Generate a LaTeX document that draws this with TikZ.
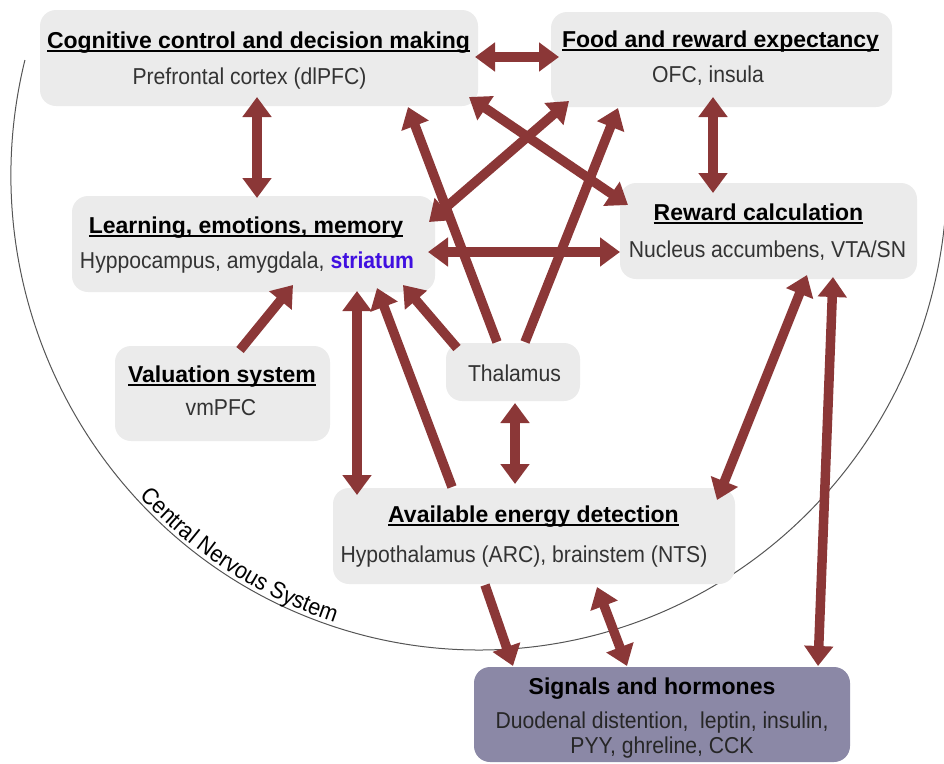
\documentclass[tikz,border=0pt]{standalone}
\usepackage{fontspec}
\setmainfont{Liberation Sans}
\newfontfamily\narrowf{Liberation Sans}[FakeStretch=0.92]
\usetikzlibrary{arrows.meta,calc,decorations.text}
\definecolor{boxgray}{RGB}{235,235,235}
\definecolor{sigcol}{RGB}{139,136,166}
\definecolor{arrcol}{RGB}{139,55,55}
\definecolor{strcol}{RGB}{64,16,224}
\definecolor{subcol}{RGB}{51,51,51}
\definecolor{arccol}{RGB}{85,85,85}
\newcommand\myul[1]{\setbox0\hbox{#1}\rlap{\rule[-4.3pt]{\wd0}{2.2pt}}\box0}
\tikzset{
  box/.style={fill=boxgray, rounded corners=16pt, inner sep=0pt, draw=none},
  sigbox/.style={box, fill=sigcol},
  ttl/.style={anchor=base, inner sep=0pt, font=\fontsize{23}{27}\selectfont\bfseries, text=black},
  sub/.style={anchor=base, inner sep=0pt, font=\narrowf\fontsize{23}{27}\selectfont, text=subcol},
  arr/.style={draw=arrcol, line width=9.5pt, -{Triangle[width=28pt,length=20pt]}},
  dbl/.style={draw=arrcol, line width=9.5pt, {Triangle[width=28pt,length=20pt]}-{Triangle[width=28pt,length=20pt]}},
}
\begin{document}
\begin{tikzpicture}[x=1pt,y=-1pt]
\useasboundingbox (0,0) rectangle (944,763);
\coordinate (cnsC) at (479,175);
\begin{scope}
  \clip (0,0) rectangle (944,763);
  \draw[arccol, line width=1pt] ($(cnsC)+(194:468 and 475)$) arc[start angle=194, end angle=6, x radius=468, y radius=475];
\end{scope}
\path[decorate, decoration={text along path, text align=center,
  text={|\narrowf\fontsize{23.5}{28}\selectfont|Central Nervous System}}]
  ($(cnsC)+(150:464 and 471)$) arc[start angle=150, end angle=95, x radius=464, y radius=471];

% boxes
\node[box, minimum width=438pt, minimum height=96pt] (cog) at (259,58) {};
\node[box, minimum width=341pt, minimum height=95pt] (food) at (721.5,59.5) {};
\node[box, minimum width=363pt, minimum height=96pt] (learn) at (253.5,244) {};
\node[box, minimum width=297pt, minimum height=96pt] (reward) at (768.5,231) {};
\node[box, minimum width=215pt, minimum height=95pt] (val) at (222.5,393.5) {};
\node[box, minimum width=134pt, minimum height=58pt] (thal) at (513,372) {};
\node[box, minimum width=402pt, minimum height=96pt] (avail) at (534,536) {};
\node[sigbox, minimum width=376pt, minimum height=95pt] (sig) at (662,714.5) {};

% connectors
\draw[dbl] ($(cog.center)+(216,-1)$) -- ($(food.center)+(-162.5,-2.5)$);
\draw[dbl] ($(cog.center)+(-2,39)$) -- ($(learn.center)+(3.5,-46)$);
\draw[dbl] ($(food.center)+(-8.5,37.5)$) -- ($(reward.center)+(-55.5,-38)$);
\draw[dbl] ($(learn.center)+(174.5,8)$) -- ($(reward.center)+(-148.5,21)$);
\draw[dbl] ($(food.center)+(-152.5,41.5)$) -- ($(learn.center)+(175.5,-22)$);
\draw[dbl] ($(cog.center)+(210,39)$) -- ($(reward.center)+(-140.5,-26)$);
\draw[arr] ($(thal.center)+(-16,-30)$) -- ($(cog.center)+(149,49)$);
\draw[arr] ($(thal.center)+(12,-30)$) -- ($(food.center)+(-103.5,48.5)$);
\draw[arr] ($(thal.center)+(-56,-24)$) -- ($(learn.center)+(149.5,41)$);
\draw[arr] ($(val.center)+(17.5,-43.5)$) -- ($(learn.center)+(39.5,41)$);
\draw[dbl] ($(learn.center)+(103.5,47)$) -- ($(avail.center)+(-177,-41)$);
\draw[arr] ($(avail.center)+(-82,-49)$) -- ($(learn.center)+(123.5,44)$);
\draw[dbl] ($(thal.center)+(2,31)$) -- ($(avail.center)+(-19,-52)$);
\draw[dbl] ($(reward.center)+(38.5,44)$) -- ($(avail.center)+(183,-36)$);
\draw[dbl] ($(reward.center)+(64.5,46)$) -- ($(sig.center)+(156,-48.5)$);
\draw[arr] ($(avail.center)+(-49,49)$) -- ($(sig.center)+(-149,-48.5)$);
\draw[dbl] ($(avail.center)+(63,51)$) -- ($(sig.center)+(-35,-48.5)$);

% texts
\node[ttl] (cogT) at (258.5,48) {\myul{Cognitive control and decision making}};
\node[sub] (cogS) at (249.5,84) {Prefrontal cortex (dlPFC)};
\node[ttl] (foodT) at (720.5,47) {\myul{Food and reward expectancy}};
\node[sub] (foodS) at (708,82) {OFC, insula};
\node[ttl] (learnT) at (246,233) {\myul{Learning, emotions, memory}};
\node[sub] (learnS) at (247,268) {Hyppocampus, amygdala, {\bfseries\color{strcol}striatum}};
\node[ttl] (rewT) at (758.5,220) {\myul{Reward calculation}};
\node[sub] (rewS) at (767.5,257) {Nucleus accumbens, VTA/SN};
\node[ttl] (valT) at (222,382) {\myul{Valuation system}};
\node[sub] (valS) at (221,415) {vmPFC};
\node[sub] (thalT) at (514.5,381) {Thalamus};
\node[ttl] (availT) at (533.5,522) {\myul{Available energy detection}};
\node[sub] (availS) at (524,562) {Hypothalamus (ARC), brainstem (NTS)};
\node[ttl] (sigT) at (652,694) {Signals and hormones};
\node[sub, text=black!85] (sigS1) at (662,728) {Duodenal distention,\ \ leptin, insulin,};
\node[sub, text=black!85] (sigS2) at (662,753) {PYY, ghreline, CCK};
\end{tikzpicture}
\end{document}
